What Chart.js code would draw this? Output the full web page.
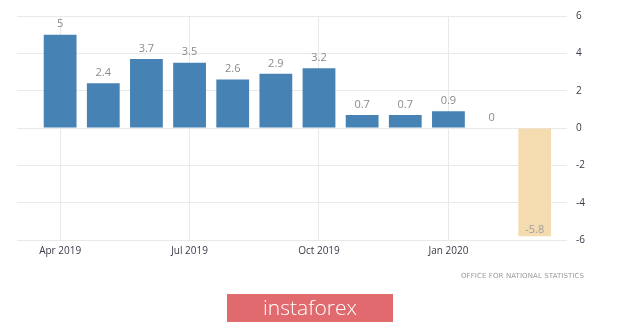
<!DOCTYPE html>
<html>
<head>
<meta charset="utf-8">
<script src="https://cdn.jsdelivr.net/npm/chart.js@4/dist/chart.umd.min.js"></script>
<style>
    html, body { margin: 0; padding: 0; background: #fff; }
    #wrap { position: relative; width: 620px; height: 323px; overflow: hidden; }
    #chart { position: absolute; left: 0; top: 0; }
    .source {
        position: absolute; left: 461px; top: 272px;
        font: 7px "DejaVu Sans", sans-serif; color: #9a9a9a; letter-spacing: 0.1px;
        white-space: nowrap;
    }
    .logo {
        position: absolute; left: 227px; top: 294px; width: 166px; height: 28px;
        background: #e06a6e; color: #fff; text-align: center;
        font: 300 21px/27px "Open Sans", sans-serif;
    }
</style>
</head>
<body>
<div id="wrap">
    <canvas id="chart" width="620" height="323"></canvas>
    <div class="source">OFFICE FOR NATIONAL STATISTICS</div>
    <div class="logo">instaforex</div>
</div>
<script>
    const months = ["Apr 2019", "May 2019", "Jun 2019", "Jul 2019", "Aug 2019", "Sep 2019",
        "Oct 2019", "Nov 2019", "Dec 2019", "Jan 2020", "Feb 2020", "Mar 2020"];
    const values = [5, 2.4, 3.7, 3.5, 2.6, 2.9, 3.2, 0.7, 0.7, 0.9, 0, -5.8];
    const labelledMonths = [0, 3, 6, 9];
    const yTicks = [-6, -4, -2, 0, 2, 4, 6];

    const positiveColor = "#4682b4";
    const negativeColor = "#f5dbb0";
    const gridColor = "#e9e9e9";

    const valueLabels = {
        id: "valueLabels",
        afterDatasetsDraw(chart) {
            const ctx = chart.ctx;
            const meta = chart.getDatasetMeta(0);
            ctx.save();
            ctx.font = "11px 'Open Sans', sans-serif";
            ctx.textAlign = "center";
            ctx.textBaseline = "bottom";
            meta.data.forEach((bar, i) => {
                const v = values[i];
                ctx.fillStyle = v < 0 ? "#a0a0a0" : "#8a8a8a";
                const y = v < 0 ? bar.y - 1 : bar.y - 5;
                ctx.fillText(String(v), bar.x, y);
            });
            ctx.restore();
        }
    };

    new Chart(document.getElementById("chart"), {
        type: "bar",
        data: {
            datasets: [{
                data: values.map((v, i) => ({ x: i, y: v })),
                backgroundColor: values.map(v => v < 0 ? negativeColor : positiveColor),
                categoryPercentage: 0.8,
                barPercentage: 0.95
            }]
        },
        options: {
            responsive: false,
            animation: false,
            layout: { padding: { left: 17, right: 26, top: 16, bottom: 61 } },
            plugins: { legend: { display: false }, tooltip: { enabled: false } },
            scales: {
                x: {
                    type: "linear",
                    offset: false,
                    min: -1,
                    max: 11.75,
                    afterBuildTicks: (scale) => {
                        scale.ticks = labelledMonths.map(v => ({ value: v }));
                    },
                    grid: { color: gridColor, drawTicks: false, offset: false },
                    border: { display: false },
                    ticks: {
                        padding: 5,
                        color: "#3a3a4a",
                        font: { family: "Open Sans", size: 10 },
                        maxRotation: 0,
                        autoSkip: false,
                        callback: (v) => months[v] ?? ""
                    }
                },
                y: {
                    position: "right",
                    min: -6,
                    max: 6,
                    afterBuildTicks: (scale) => {
                        scale.ticks = yTicks.map(v => ({ value: v }));
                    },
                    grid: { color: gridColor, drawTicks: false },
                    border: { display: false },
                    ticks: {
                        padding: 9,
                        color: "#3a3a4a",
                        font: { family: "Open Sans", size: 10 }
                    }
                }
            }
        },
        plugins: [valueLabels]
    });
</script>
</body>
</html>
